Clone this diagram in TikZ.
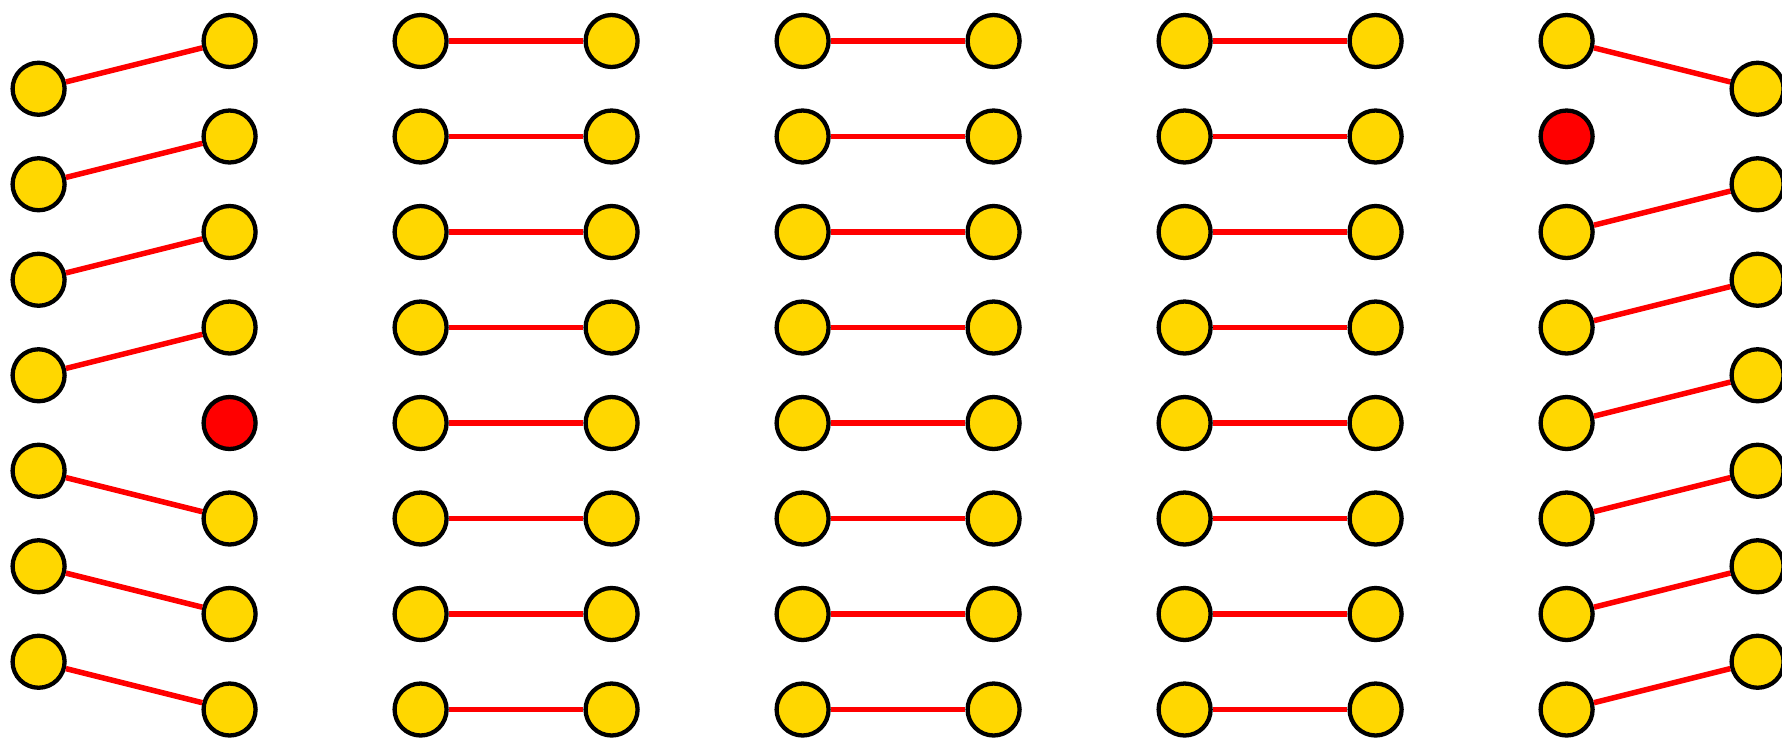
\documentclass[tikz,border=0pt]{standalone}
\definecolor{dotgold}{HTML}{FFD700}
\definecolor{linkred}{HTML}{FF0000}
\tikzset{
  dot/.style={circle, draw=black, line width=4.3pt, fill=dotgold, minimum size=52pt, inner sep=0pt},
  hotdot/.style={dot, fill=linkred},
  link/.style={draw=linkred, line width=5.5pt},
}
\begin{document}
\begin{tikzpicture}[x=1pt, y=-1pt]
\useasboundingbox (0,0) rectangle (1782,739);
% column x positions and row pitch
\def\xa{38.6}\def\dx{191}\def\ya{41}\def\dy{95.5}
% group 1: shifted left column, red node in right column
\foreach \j in {0,...,7}{
  \ifnum\j=4
    \node[hotdot] (g1r\j) at ({\xa+\dx},{\ya+\j*\dy}) {};
  \else
    \node[dot] (g1r\j) at ({\xa+\dx},{\ya+\j*\dy}) {};
  \fi
}
\foreach \j in {0,...,6}{
  \node[dot] (g1l\j) at ({\xa},{\ya+(\j+0.5)*\dy}) {};
}
\foreach \j in {0,...,3}{ \draw[link] (g1l\j) -- (g1r\j); }
\foreach \j/\k in {4/5,5/6,6/7}{ \draw[link] (g1l\j) -- (g1r\k); }
% groups 2-4: straight pairs
\foreach \g in {1,2,3}{
  \foreach \j in {0,...,7}{
    \node[dot] (p\g l\j) at ({\xa+2*\g*\dx},{\ya+\j*\dy}) {};
    \node[dot] (p\g r\j) at ({\xa+(2*\g+1)*\dx},{\ya+\j*\dy}) {};
    \draw[link] (p\g l\j) -- (p\g r\j);
  }
}
% group 5: shifted right column, red node in left column
\foreach \j in {0,...,7}{
  \ifnum\j=1
    \node[hotdot] (g5l\j) at ({\xa+8*\dx},{\ya+\j*\dy}) {};
  \else
    \node[dot] (g5l\j) at ({\xa+8*\dx},{\ya+\j*\dy}) {};
  \fi
}
\foreach \j in {0,...,6}{
  \node[dot] (g5r\j) at ({\xa+9*\dx},{\ya+(\j+0.5)*\dy}) {};
}
\draw[link] (g5l0) -- (g5r0);
\foreach \j/\k in {2/1,3/2,4/3,5/4,6/5,7/6}{ \draw[link] (g5l\j) -- (g5r\k); }
\end{tikzpicture}
\end{document}
